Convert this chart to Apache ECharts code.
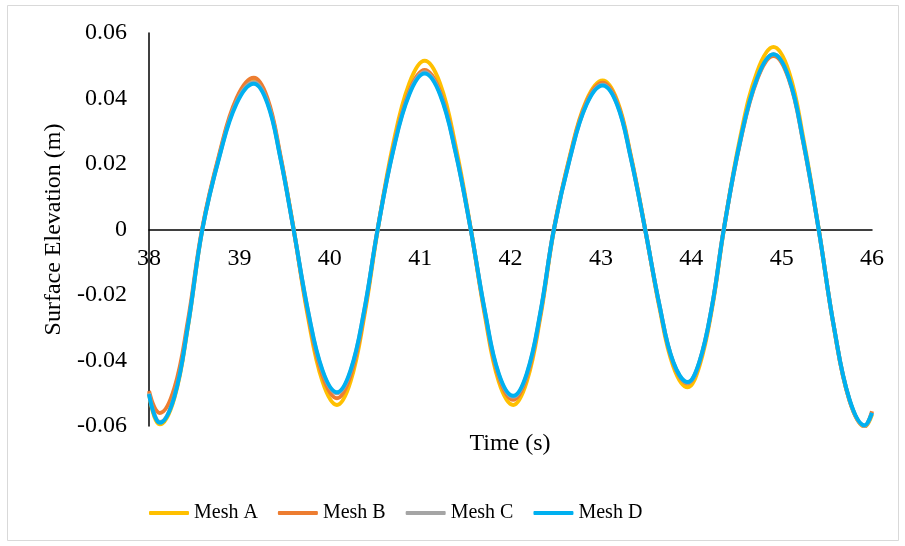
<!DOCTYPE html>
<html>
<head>
<meta charset="utf-8">
<script src="https://cdn.jsdelivr.net/npm/echarts@6/dist/echarts.min.js"></script>
<style>
  html, body { margin: 0; padding: 0; background: #ffffff; }
  #chart { width: 905px; height: 546px; }
</style>
</head>
<body>
<div id="chart"></div>
<script>
// Sample times (s) shared by all four mesh runs
const time = [38.00, 38.06, 38.12, 38.28, 38.43, 38.59, 38.78, 38.97, 39.16, 39.31,
              39.45, 39.60, 39.76, 39.92, 40.08, 40.23, 40.38, 40.53, 40.70, 40.88,
              41.05, 41.22, 41.39, 41.56, 41.72, 41.87, 42.03, 42.18, 42.33, 42.48,
              42.66, 42.84, 43.02, 43.18, 43.33, 43.49, 43.65, 43.80, 43.96, 44.09,
              44.23, 44.36, 44.54, 44.73, 44.91, 45.08, 45.24, 45.41, 45.58, 45.75,
              45.92, 46.00];

// Surface elevation (m) for each mesh
const meshA = [-0.0500, -0.0572, -0.0595, -0.0515, -0.0298, 0.0000, 0.0228, 0.0394, 0.0455, 0.0394,
               0.0228, 0.0003, -0.0268, -0.0464, -0.0536, -0.0464, -0.0268, -0.0003, 0.0258, 0.0446,
               0.0515, 0.0446, 0.0258, 0.0003, -0.0268, -0.0464, -0.0536, -0.0464, -0.0268, -0.0002,
               0.0228, 0.0394, 0.0455, 0.0394, 0.0228, 0.0002, -0.0241, -0.0417, -0.0482, -0.0417,
               -0.0241, -0.0002, 0.0279, 0.0482, 0.0557, 0.0482, 0.0279, 0.0002, -0.0301, -0.0521,
               -0.0602, -0.0565];
const meshB = [-0.0493, -0.0543, -0.0560, -0.0485, -0.0280, 0.0005, 0.0232, 0.0401, 0.0463, 0.0401,
               0.0232, 0.0000, -0.0258, -0.0446, -0.0515, -0.0446, -0.0258, 0.0002, 0.0244, 0.0422,
               0.0487, 0.0422, 0.0244, 0.0000, -0.0260, -0.0450, -0.0520, -0.0450, -0.0260, 0.0002,
               0.0224, 0.0388, 0.0448, 0.0388, 0.0224, 0.0000, -0.0235, -0.0407, -0.0470, -0.0407,
               -0.0235, 0.0002, 0.0265, 0.0459, 0.0530, 0.0459, 0.0265, 0.0000, -0.0300, -0.0520,
               -0.0600, -0.0555];
const meshC = [-0.0500, -0.0565, -0.0588, -0.0509, -0.0294, 0.0000, 0.0225, 0.0390, 0.0450, 0.0390,
               0.0225, 0.0000, -0.0250, -0.0433, -0.0500, -0.0433, -0.0250, 0.0000, 0.0240, 0.0416,
               0.0480, 0.0416, 0.0240, 0.0000, -0.0256, -0.0443, -0.0511, -0.0443, -0.0256, 0.0000,
               0.0221, 0.0383, 0.0442, 0.0383, 0.0221, 0.0000, -0.0234, -0.0405, -0.0468, -0.0405,
               -0.0234, 0.0000, 0.0268, 0.0463, 0.0535, 0.0463, 0.0268, 0.0000, -0.0300, -0.0520,
               -0.0600, -0.0560];
const meshD = [-0.0503, -0.0567, -0.0590, -0.0511, -0.0295, 0.0000, 0.0223, 0.0385, 0.0445, 0.0385,
               0.0223, 0.0000, -0.0249, -0.0430, -0.0497, -0.0430, -0.0249, 0.0000, 0.0238, 0.0412,
               0.0476, 0.0412, 0.0238, 0.0000, -0.0254, -0.0440, -0.0508, -0.0440, -0.0254, 0.0000,
               0.0220, 0.0381, 0.0440, 0.0381, 0.0220, 0.0000, -0.0233, -0.0404, -0.0466, -0.0404,
               -0.0233, 0.0000, 0.0268, 0.0463, 0.0535, 0.0463, 0.0268, 0.0000, -0.0299, -0.0518,
               -0.0598, -0.0560];

const seriesNames = ['Mesh A', 'Mesh B', 'Mesh C', 'Mesh D'];
const seriesValues = [meshA, meshB, meshC, meshD];
const seriesColors = ['#FFC000', '#ED7D31', '#A5A5A5', '#00B0F0'];

const FONT = '"Liberation Serif", "Times New Roman", serif';

// Plot area; the time axis sits on the zero line, halfway down
const GRID = { left: 149, right: 33, top: 33, bottom: 120 };
const plotHeight = 546 - GRID.top - GRID.bottom;

const chart = echarts.init(document.getElementById('chart'));

chart.setOption({
  backgroundColor: '#ffffff',
  animation: false,
  grid: GRID,
  xAxis: {
    type: 'value',
    min: 38, max: 46, interval: 1,
    offset: -plotHeight / 2,
    axisLine: { onZero: false, lineStyle: { color: '#000000', width: 1.5 } },
    axisTick: { show: false },
    splitLine: { show: false },
    axisLabel: { color: '#000000', fontFamily: FONT, fontSize: 24, margin: 17 }
  },
  yAxis: {
    type: 'value',
    min: -0.06, max: 0.06, interval: 0.02,
    name: 'Surface Elevation (m)',
    nameLocation: 'middle',
    nameGap: 77,
    nameTextStyle: { color: '#000000', fontFamily: FONT, fontSize: 24 },
    axisLine: { show: true, onZero: false, lineStyle: { color: '#000000', width: 1.5 } },
    axisTick: { show: false },
    splitLine: { show: false },
    axisLabel: {
      color: '#000000', fontFamily: FONT, fontSize: 24, margin: 22,
      formatter: v => (Math.abs(v) < 1e-9 ? '0' : v.toFixed(2))
    }
  },
  legend: {
    data: seriesNames,
    left: 144, top: 498,
    itemWidth: 40, itemHeight: 4, itemGap: 20,
    icon: 'roundRect',
    textStyle: { color: '#000000', fontFamily: FONT, fontSize: 20 }
  },
  graphic: [
    {
      type: 'rect',
      shape: { x: 7.5, y: 5.5, width: 891, height: 535 },
      style: { fill: 'none', stroke: '#d9d9d9', lineWidth: 1 },
      silent: true
    },
    {
      type: 'text',
      x: 510, y: 444,
      style: {
        text: 'Time (s)', fill: '#000000', font: '24px ' + FONT,
        align: 'center', verticalAlign: 'middle'
      }
    }
  ],
  series: seriesNames.map((name, i) => ({
    name: name,
    type: 'line',
    data: time.map((t, k) => [t, seriesValues[i][k]]),
    smooth: 0.4,
    showSymbol: false,
    lineStyle: { color: seriesColors[i], width: 4 },
    itemStyle: { color: seriesColors[i] }
  }))
});
</script>
</body>
</html>
